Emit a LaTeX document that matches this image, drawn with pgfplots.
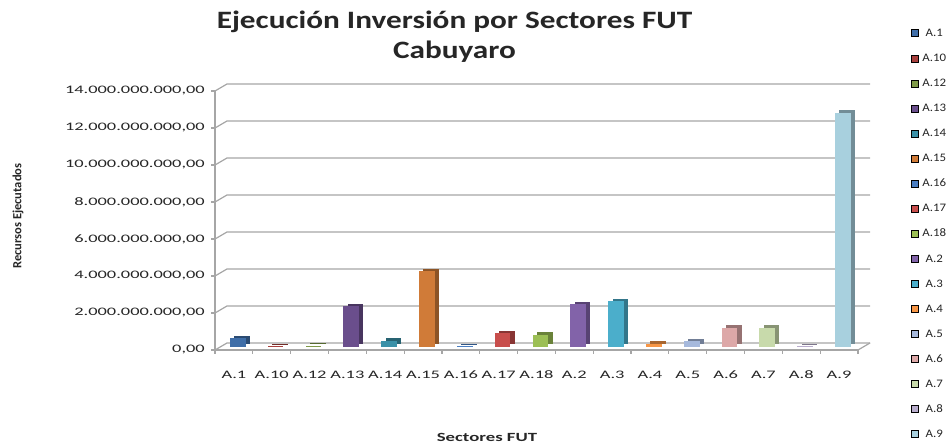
\documentclass[border=0pt]{standalone}
\usepackage{pgfplots}
\pgfplotsset{compat=1.18}
\usepackage{fontspec}
\setmainfont{Carlito}
\newfontfamily\tickfont{Carlito}[FakeStretch=1.6]
\newfontfamily\legfont{Carlito}[FakeStretch=1.12]
\newfontfamily\titlefont{Carlito}[FakeStretch=1.25]
\newfontfamily\xlabfont{Carlito}[FakeStretch=1.5]
\definecolor{gridc}{HTML}{A6A6A6}
\definecolor{cA}{HTML}{3F6EA8}
\definecolor{cB}{HTML}{A8403D}
\definecolor{cC}{HTML}{7F9A48}
\definecolor{cD}{HTML}{6A4E8C}
\definecolor{cE}{HTML}{3B91A8}
\definecolor{cF}{HTML}{D07B38}
\definecolor{cG}{HTML}{4A7EC2}
\definecolor{cH}{HTML}{C84E4C}
\definecolor{cI}{HTML}{9CBF55}
\definecolor{cJ}{HTML}{8263A9}
\definecolor{cK}{HTML}{4BAECB}
\definecolor{cL}{HTML}{F79646}
\definecolor{cM}{HTML}{A6B9DC}
\definecolor{cN}{HTML}{DDA8A8}
\definecolor{cO}{HTML}{C8DAAB}
\definecolor{cP}{HTML}{B9ADCD}
\definecolor{cQ}{HTML}{A8D0DE}
\begin{document}
\begin{tikzpicture}
\node[font=\titlefont\bfseries\fontsize{25bp}{30bp}\selectfont, align=center, text=black!85] at (454.5bp,406bp) {Ejecución Inversión por Sectores FUT\\Cabuyaro};
\begin{axis}[
  set layers,
  at={(215bp,93bp)}, anchor=south west,
  scale only axis, width=643bp, height=259bp,
  xmin=-0.5, xmax=16.5, ymin=0, ymax=14000000000,
  clip=false,
  scaled y ticks=false,
  axis x line=bottom, axis y line=left,
  axis line style={-, draw=gridc, line width=1.2bp},
  tick align=outside,
  major tick length=4bp,
  xtick={0,...,16},
  xticklabels={A.1,A.10,A.12,A.13,A.14,A.15,A.16,A.17,A.18,A.2,A.3,A.4,A.5,A.6,A.7,A.8,A.9},
  xtick style={draw=none},
  extra x ticks={-0.5,0.5,...,16.5},
  extra x tick labels={},
  extra x tick style={xtick style={draw=gridc, line width=1.2bp}, major tick length=4bp},
  ytick={0,2000000000,4000000000,6000000000,8000000000,10000000000,12000000000,14000000000},
  yticklabels={{0,00},{2.000.000.000,00},{4.000.000.000,00},{6.000.000.000,00},{8.000.000.000,00},{10.000.000.000,00},{12.000.000.000,00},{14.000.000.000,00}},
  ytick style={draw=gridc, line width=1.2bp},
  ticklabel style={font=\tickfont\fontsize{11.5bp}{13bp}\selectfont, text=black!85},
  xticklabel style={anchor=center, yshift=-21bp},
  yticklabel style={anchor=east, inner sep=0pt, xshift=-6bp},
  xlabel={Sectores FUT},
  xlabel style={at={(axis description cs:0.423,-0.336)}, anchor=center, font=\xlabfont\bfseries\fontsize{12.5bp}{14bp}\selectfont, text=black!85},
  ylabel={Recursos Ejecutados},
  ylabel style={at={(axis description cs:-0.3064,0.517)}, anchor=center, font=\bfseries\fontsize{12.5bp}{14bp}\selectfont, text=black!85},
  legend image code/.code={\fill[#1] (0bp,0bp) rectangle (7bp,7bp);},
  legend cell align=left,
  legend style={draw=none, fill=none, inner sep=0pt, outer sep=0pt,
    at={(1.0824,1.2375)}, anchor=north west,
    row sep=17.64bp,
    nodes={inner sep=0pt, outer sep=0pt, anchor=base, text height=7bp, text depth=0bp},
    font=\legfont\fontsize{11.5bp}{13bp}\selectfont, text=black!85,
    /tikz/every odd column/.append style={column sep=4bp}},
  front/.style={ybar, bar width=15.7bp, bar shift=3.9bp, yshift=3bp, draw=none, fill=#1, forget plot},
  back/.style={ybar, bar width=15.7bp, bar shift=8.2bp, yshift=5.5bp, draw=none, fill=#1!68!black, forget plot},
]
\begin{pgfonlayer}{axis background}
\pgfplotsinvokeforeach{0,2000000000,4000000000,6000000000,8000000000,10000000000,12000000000,14000000000}{
  \draw[gridc, line width=1.2bp] (axis cs:-0.5,#1) -- ++(12bp,7bp) -- ([xshift=12bp,yshift=7bp]axis cs:16.5,#1);
}
\draw[gridc, line width=1.2bp] (axis cs:16.5,0) -- ++(12bp,7bp);
\end{pgfonlayer}
% A.1
\addplot[back=cA] coordinates {(0,480000000)};
\addplot[front=cA] coordinates {(0,480000000)};
% A.10
\addplot[back=cB] coordinates {(1,30000000)};
\addplot[front=cB] coordinates {(1,30000000)};
% A.12
\addplot[back=cC] coordinates {(2,60000000)};
\addplot[front=cC] coordinates {(2,60000000)};
% A.13
\addplot[back=cD] coordinates {(3,2200000000)};
\addplot[front=cD] coordinates {(3,2200000000)};
% A.14
\addplot[back=cE] coordinates {(4,350000000)};
\addplot[front=cE] coordinates {(4,350000000)};
% A.15
\addplot[back=cF] coordinates {(5,4100000000)};
\addplot[front=cF] coordinates {(5,4100000000)};
% A.16
\addplot[back=cG] coordinates {(6,40000000)};
\addplot[front=cG] coordinates {(6,40000000)};
% A.17
\addplot[back=cH] coordinates {(7,750000000)};
\addplot[front=cH] coordinates {(7,750000000)};
% A.18
\addplot[back=cI] coordinates {(8,670000000)};
\addplot[front=cI] coordinates {(8,670000000)};
% A.2
\addplot[back=cJ] coordinates {(9,2320000000)};
\addplot[front=cJ] coordinates {(9,2320000000)};
% A.3
\addplot[back=cK] coordinates {(10,2460000000)};
\addplot[front=cK] coordinates {(10,2460000000)};
% A.4
\addplot[back=cL] coordinates {(11,170000000)};
\addplot[front=cL] coordinates {(11,170000000)};
% A.5
\addplot[back=cM] coordinates {(12,300000000)};
\addplot[front=cM] coordinates {(12,300000000)};
% A.6
\addplot[back=cN] coordinates {(13,1040000000)};
\addplot[front=cN] coordinates {(13,1040000000)};
% A.7
\addplot[back=cO] coordinates {(14,1030000000)};
\addplot[front=cO] coordinates {(14,1030000000)};
% A.8
\addplot[back=cP] coordinates {(15,40000000)};
\addplot[front=cP] coordinates {(15,40000000)};
% A.9
\addplot[back=cQ] coordinates {(16,12650000000)};
\addplot[front=cQ] coordinates {(16,12650000000)};
\addlegendimage{fill=cA}\addlegendentry{A.1}
\addlegendimage{fill=cB}\addlegendentry{A.10}
\addlegendimage{fill=cC}\addlegendentry{A.12}
\addlegendimage{fill=cD}\addlegendentry{A.13}
\addlegendimage{fill=cE}\addlegendentry{A.14}
\addlegendimage{fill=cF}\addlegendentry{A.15}
\addlegendimage{fill=cG}\addlegendentry{A.16}
\addlegendimage{fill=cH}\addlegendentry{A.17}
\addlegendimage{fill=cI}\addlegendentry{A.18}
\addlegendimage{fill=cJ}\addlegendentry{A.2}
\addlegendimage{fill=cK}\addlegendentry{A.3}
\addlegendimage{fill=cL}\addlegendentry{A.4}
\addlegendimage{fill=cM}\addlegendentry{A.5}
\addlegendimage{fill=cN}\addlegendentry{A.6}
\addlegendimage{fill=cO}\addlegendentry{A.7}
\addlegendimage{fill=cP}\addlegendentry{A.8}
\addlegendimage{fill=cQ}\addlegendentry{A.9}
\end{axis}
\pgfresetboundingbox
\path[use as bounding box] (0,0) rectangle (950bp,443bp);
\end{tikzpicture}
\end{document}
